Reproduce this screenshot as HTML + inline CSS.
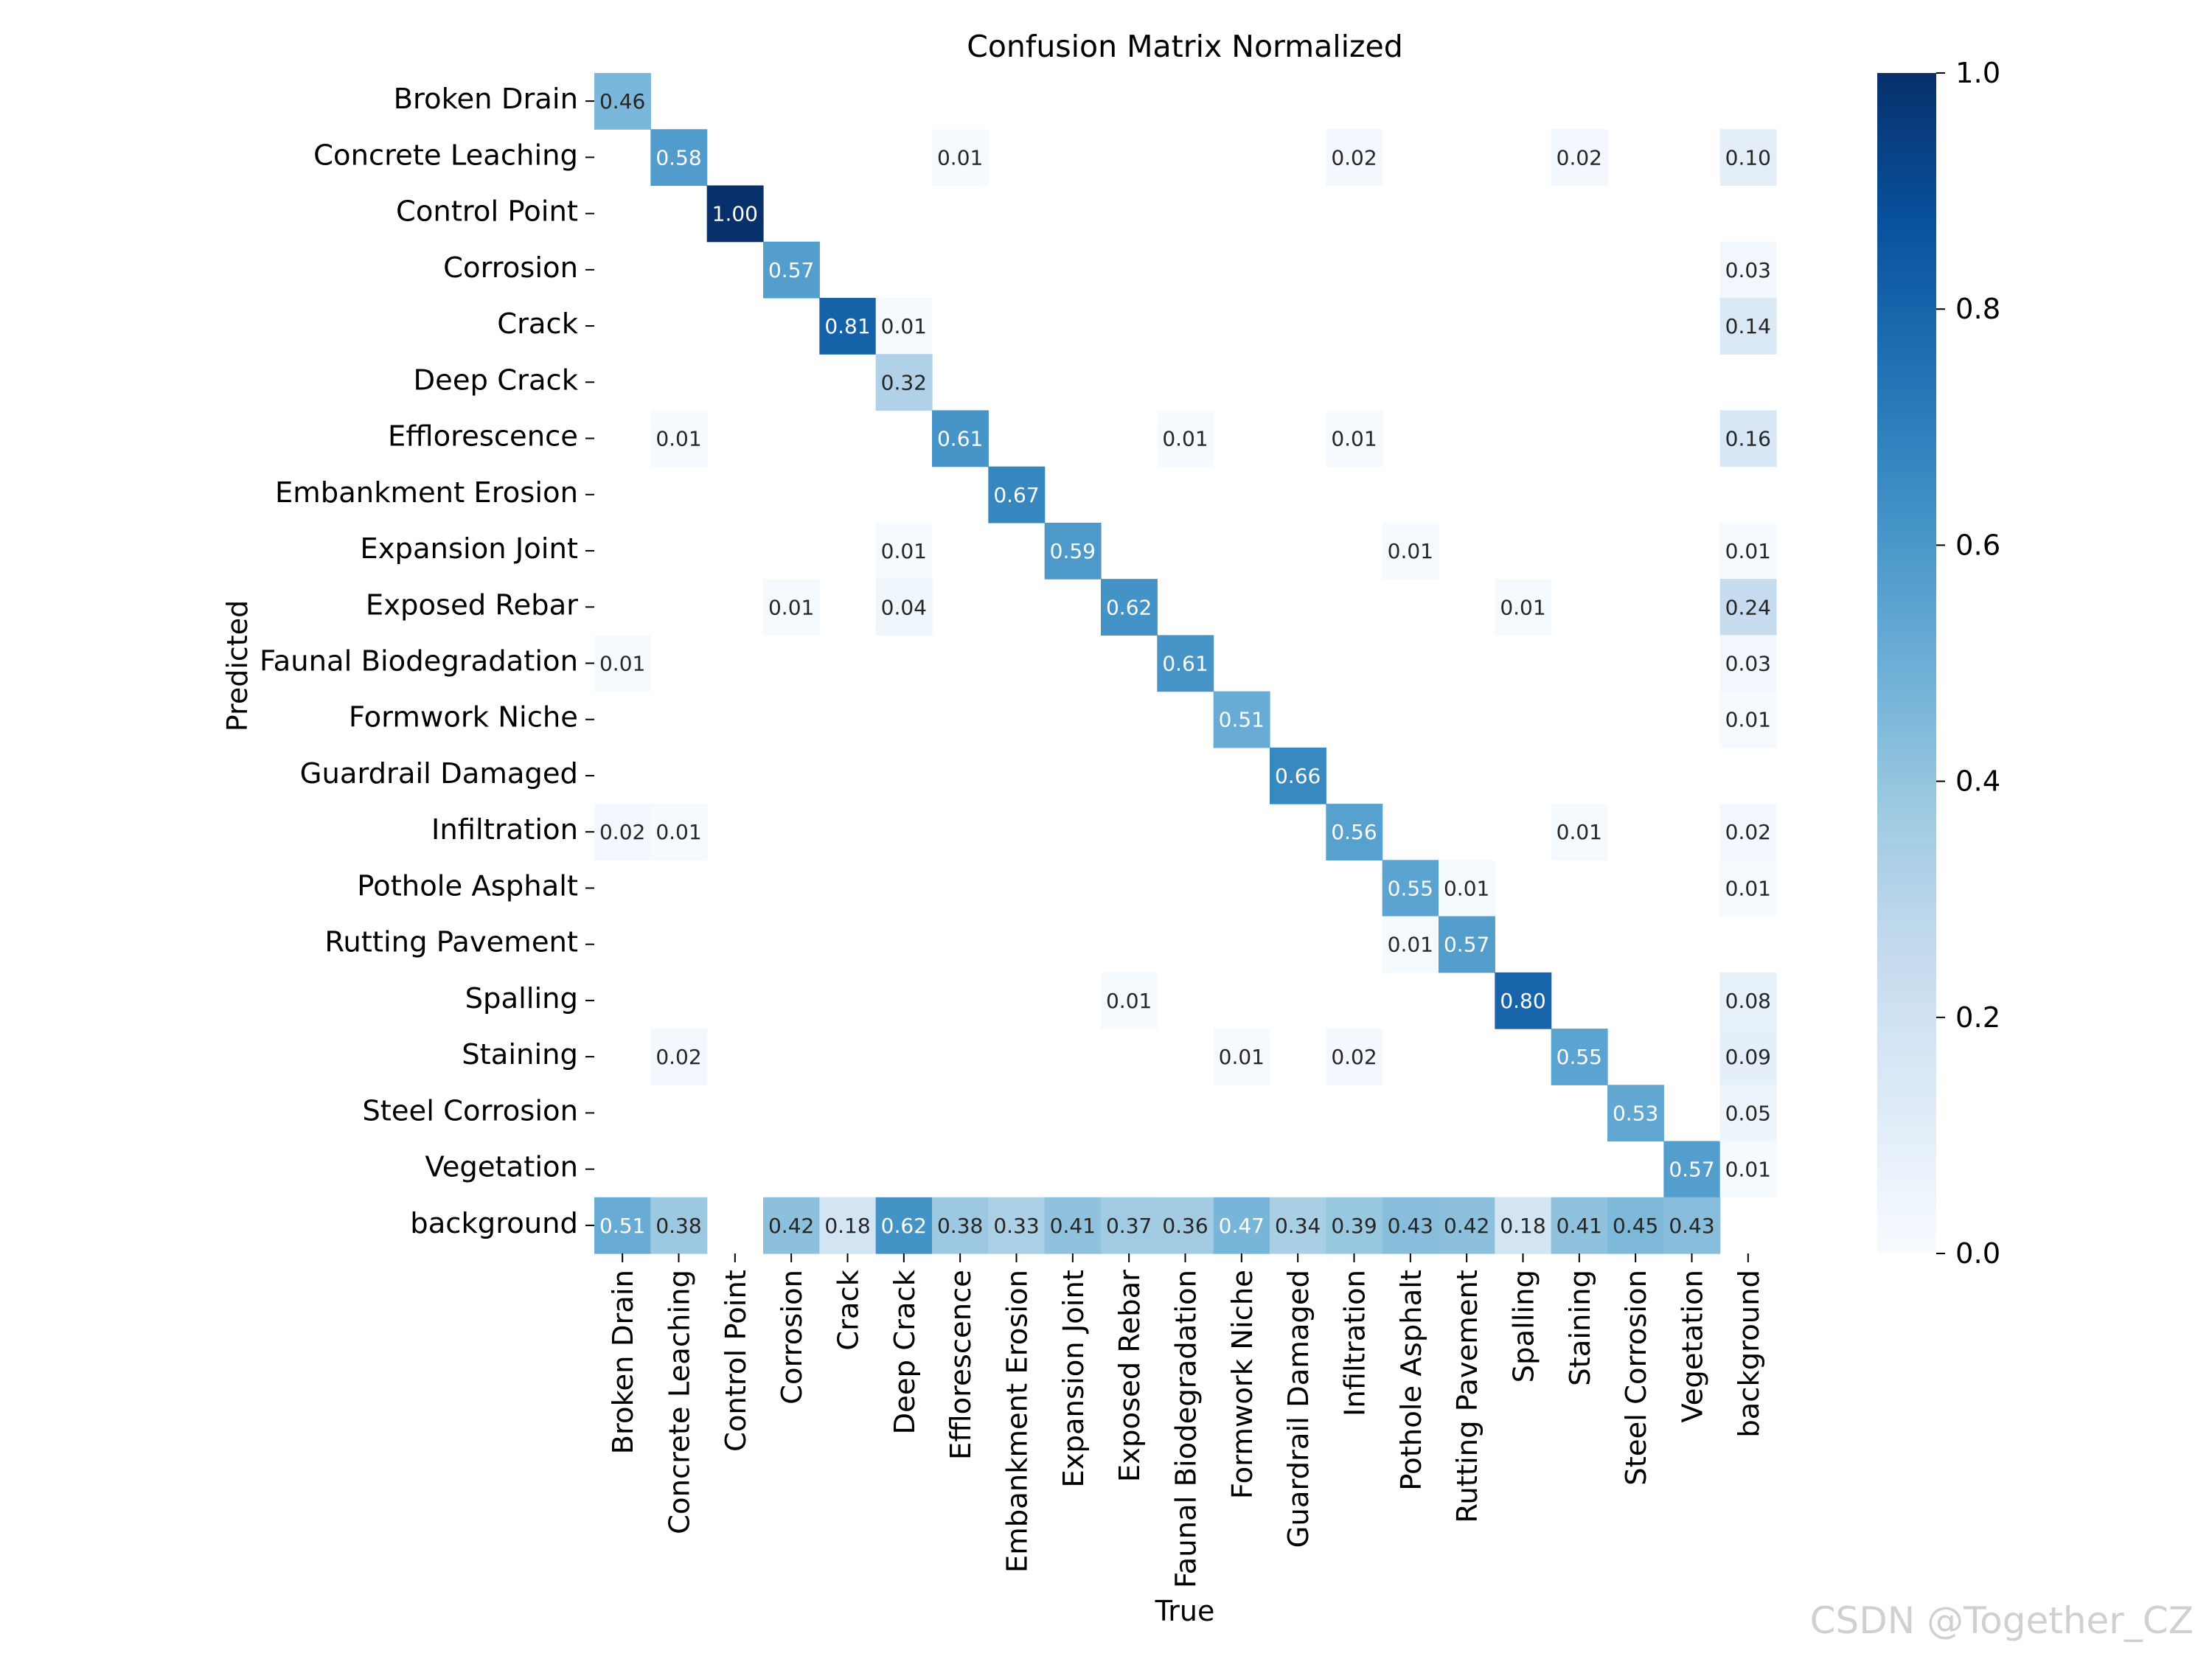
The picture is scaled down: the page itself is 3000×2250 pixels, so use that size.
<!DOCTYPE html>
<html><head><meta charset="utf-8"><style>
html,body{margin:0;padding:0;background:#fff;}
svg{display:block;font-family:"DejaVu Sans","Liberation Sans",sans-serif;}
</style></head><body>
<svg id="chart" width="3000" height="2250" viewBox="0 0 3000 2250" xmlns="http://www.w3.org/2000/svg">
<text x="1607" y="77" font-size="41" text-anchor="middle" fill="#000">Confusion Matrix Normalized</text>
<text x="0" y="0" font-size="38" text-anchor="middle" fill="#000" transform="translate(335,903) rotate(-90)">Predicted</text>
<text x="1607" y="2198" font-size="38" text-anchor="middle" fill="#000">True</text>
<text x="2975" y="2215" font-size="50" text-anchor="end" fill="#d0d0d0">CSDN @Together_CZ</text>
<g id="cells"></g>
<g id="ylabels"></g>
<g id="xlabels"></g>
<defs><linearGradient id="cbgrad" x1="0" y1="1" x2="0" y2="0">
<stop offset="0" stop-color="#f7fbff"/><stop offset="0.125" stop-color="#deebf7"/><stop offset="0.25" stop-color="#c6dbef"/><stop offset="0.375" stop-color="#9ecae1"/><stop offset="0.5" stop-color="#6baed6"/><stop offset="0.625" stop-color="#4292c6"/><stop offset="0.75" stop-color="#2171b5"/><stop offset="0.875" stop-color="#08519c"/><stop offset="1" stop-color="#08306b"/>
</linearGradient></defs>
<rect x="2546" y="99" width="80" height="1601" fill="url(#cbgrad)"/>
<g id="cbticks"></g>
</svg>
<script>
const labels = ["Broken Drain","Concrete Leaching","Control Point","Corrosion","Crack","Deep Crack","Efflorescence","Embankment Erosion","Expansion Joint","Exposed Rebar","Faunal Biodegradation","Formwork Niche","Guardrail Damaged","Infiltration","Pothole Asphalt","Rutting Pavement","Spalling","Staining","Steel Corrosion","Vegetation","background"];
// sparse entries: [row(predicted), col(true), value]
const entries = [
[0,0,.46],
[1,1,.58],[1,6,.01],[1,13,.02],[1,17,.02],[1,20,.10],
[2,2,1.00],
[3,3,.57],[3,20,.03],
[4,4,.81],[4,5,.01],[4,20,.14],
[5,5,.32],
[6,1,.01],[6,6,.61],[6,10,.01],[6,13,.01],[6,20,.16],
[7,7,.67],
[8,5,.01],[8,8,.59],[8,14,.01],[8,20,.01],
[9,3,.01],[9,5,.04],[9,9,.62],[9,16,.01],[9,20,.24],
[10,0,.01],[10,10,.61],[10,20,.03],
[11,11,.51],[11,20,.01],
[12,12,.66],
[13,0,.02],[13,1,.01],[13,13,.56],[13,17,.01],[13,20,.02],
[14,14,.55],[14,15,.01],[14,20,.01],
[15,14,.01],[15,15,.57],
[16,9,.01],[16,16,.80],[16,20,.08],
[17,1,.02],[17,11,.01],[17,13,.02],[17,17,.55],[17,20,.09],
[18,18,.53],[18,20,.05],
[19,19,.57],[19,20,.01]
];
const backgroundRow = [.51,.38,0,.42,.18,.62,.38,.33,.41,.37,.36,.47,.34,.39,.43,.42,.18,.41,.45,.43,0];
const cbTicks = [0,0.2,0.4,0.6,0.8,1.0];

const X0=806, X1=2409, Y0=99, Y1=1700, N=labels.length;
const cw=(X1-X0)/N, ch=(Y1-Y0)/N;
const xs = c => X0 + c*cw;
const ys = r => Y0 + r*ch;
const stops=["#f7fbff","#deebf7","#c6dbef","#9ecae1","#6baed6","#4292c6","#2171b5","#08519c","#08306b"].map(h=>[1,3,5].map(i=>parseInt(h.substr(i,2),16)));
function blues(v){v=Math.max(0,Math.min(1,v));const p=v*8,i=Math.min(7,Math.floor(p)),f=p-i;
 const c=stops[i].map((a,k)=>Math.round(a+(stops[i+1][k]-a)*f));return `rgb(${c[0]},${c[1]},${c[2]})`;}
const NS="http://www.w3.org/2000/svg";
function mk(t,a,p){const e=document.createElementNS(NS,t);for(const k in a)e.setAttribute(k,a[k]);p.appendChild(e);return e;}
const cells=document.getElementById('cells');
const all=entries.slice();
backgroundRow.forEach((v,c)=>all.push([N-1,c,v]));
all.forEach(([r,c,v])=>{
 if(v<0.005) return;
 const rect=mk('rect',{x:xs(c),y:ys(r),width:cw+0.6,height:ch+0.6,fill:blues(v)},cells);
 
 
 const t=mk('text',{x:xs(c)+cw/2,y:ys(r)+ch/2+10,'font-size':28,'text-anchor':'middle',fill:v>=0.47?'#ffffff':'#262626'},cells);
 
 
 t.textContent=v.toFixed(2);
});
const yl=document.getElementById('ylabels'), xl=document.getElementById('xlabels');
labels.forEach((lab,i)=>{
 const cy=ys(i)+ch/2;
 const tk=mk('line',{x1:X0-12,y1:cy,x2:X0,y2:cy,stroke:'#000','stroke-width':2},yl);
 
 
 const t=mk('text',{x:X0-22,y:cy+10,'font-size':38.5,'text-anchor':'end',fill:'#000'},yl);
 
 
 t.textContent=lab;
 const cx=xs(i)+cw/2;
 const tk2=mk('line',{x1:cx,y1:Y1,x2:cx,y2:Y1+12,stroke:'#000','stroke-width':2},xl);
 
 
 const t2=mk('text',{x:0,y:0,'font-size':38.5,'text-anchor':'end',fill:'#000',transform:`translate(${cx+14},${Y1+22}) rotate(-90)`},xl);
 
 
 t2.textContent=lab;
});
const cb=document.getElementById('cbticks');
cbTicks.forEach(v=>{
 const y=Y1-(Y1-Y0)*v;
 const l=mk('line',{x1:2626,y1:y,x2:2638,y2:y,stroke:'#000','stroke-width':2},cb);
 
 
 const t=mk('text',{x:2652,y:y+13,'font-size':38.5,fill:'#000'},cb);
 
 
 t.textContent=v.toFixed(1);
});
</script>
</body></html>
